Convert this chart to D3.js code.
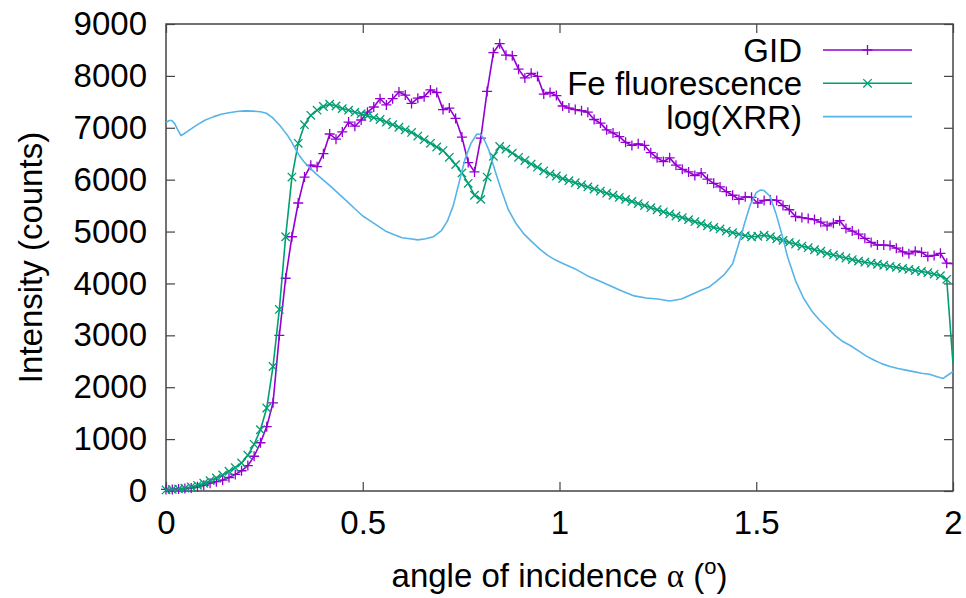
<!DOCTYPE html>
<html>
<head>
<meta charset="utf-8">
<script src="https://cdn.jsdelivr.net/npm/d3@7"></script>
<style>
  html, body { margin: 0; padding: 0; background: #fff; }
  svg { display: block; font-family: "Liberation Sans", Arial, sans-serif; }
</style>
</head>
<body>
<svg id="chart" width="966" height="598"></svg>
<script>
// ---------------- DATA ----------------
// measurement grid step for GID and Fe fluorescence (degrees)
const angleStep = 0.016;

const gidCounts = [
  30, 30, 40, 50, 60, 80, 110, 150, 180, 210,
  260, 320, 390, 490, 670, 930, 1240, 1700, 3000, 4100,
  4900, 5550, 6050, 6280, 6250, 6500, 6880, 6780, 6920, 7110,
  7030, 7150, 7300, 7400, 7560, 7440, 7560, 7690, 7630, 7470,
  7570, 7600, 7730, 7680, 7350, 7380, 7180, 6820, 6330, 6150,
  6800, 7700, 8450, 8620, 8400, 8390, 8130, 7960, 8050, 7990,
  7650, 7680, 7620, 7420, 7380, 7350, 7330, 7300, 7160, 7090,
  6960, 6900, 6830, 6720, 6660, 6690, 6660, 6520, 6420, 6350,
  6420, 6280, 6200, 6150, 6080, 6130, 6010, 5930, 5860, 5770,
  5700, 5620, 5670, 5660, 5550, 5600, 5610, 5600, 5500, 5420,
  5290, 5270, 5250, 5230, 5180, 5110, 5160, 5210, 5060, 5010,
  4950, 4870, 4790, 4740, 4740, 4730, 4680, 4610, 4570, 4620,
  4600, 4520, 4540, 4580, 4390, 4380
];

const feCounts = [
  20, 30, 40, 55, 80, 110, 150, 200, 250, 310,
  380, 450, 540, 690, 900, 1180, 1600, 2400, 3500, 4900,
  6050, 6700, 7060, 7240, 7340, 7410, 7455, 7420, 7370, 7340,
  7300, 7270, 7230, 7195, 7160, 7110, 7060, 7010, 6960, 6910,
  6840, 6770, 6700, 6630, 6560, 6430, 6290, 6130, 5930, 5700,
  5620, 6050, 6450, 6640, 6590, 6510, 6430, 6370, 6300, 6240,
  6170, 6110, 6070, 6020, 5980, 5940, 5900, 5860, 5820, 5780,
  5740, 5700, 5660, 5620, 5580, 5540, 5500, 5460, 5420, 5380,
  5340, 5300, 5270, 5230, 5190, 5150, 5110, 5080, 5050, 5010,
  4980, 4950, 4920, 4900, 4910, 4930, 4900, 4860, 4830, 4790,
  4760, 4720, 4690, 4650, 4620, 4580, 4550, 4520, 4490, 4460,
  4430, 4410, 4390, 4370, 4350, 4330, 4310, 4290, 4270, 4250,
  4230, 4210, 4180, 4150, 4080, 2450
];

const xrrAngles = [
  0.000, 0.008, 0.015, 0.022, 0.030, 0.038, 0.045, 0.060, 0.080, 0.100,
  0.120, 0.140, 0.160, 0.180, 0.200, 0.220, 0.240, 0.255, 0.270, 0.280,
  0.290, 0.300, 0.310, 0.320, 0.330, 0.340, 0.350, 0.360, 0.380, 0.400,
  0.420, 0.440, 0.460, 0.480, 0.500, 0.520, 0.540, 0.560, 0.580, 0.600,
  0.620, 0.640, 0.660, 0.680, 0.700, 0.715, 0.730, 0.745, 0.760, 0.775,
  0.790, 0.800, 0.810, 0.820, 0.835, 0.850, 0.870, 0.890, 0.910, 0.930,
  0.950, 0.970, 0.990, 1.010, 1.040, 1.070, 1.100, 1.130, 1.160, 1.190,
  1.220, 1.250, 1.280, 1.310, 1.340, 1.360, 1.380, 1.400, 1.420, 1.440,
  1.455, 1.470, 1.485, 1.500, 1.510, 1.520, 1.535, 1.550, 1.565, 1.580,
  1.600, 1.620, 1.640, 1.660, 1.680, 1.700, 1.720, 1.740, 1.760, 1.780,
  1.800, 1.820, 1.840, 1.860, 1.880, 1.900, 1.920, 1.940, 1.960, 1.975,
  1.990, 2.000
];
const xrrValues = [
  7100, 7140, 7140, 7080, 6960, 6850, 6880, 6960, 7060, 7150,
  7210, 7260, 7290, 7315, 7325, 7320, 7310, 7280, 7200, 7120,
  7040, 6940, 6840, 6720, 6580, 6450, 6350, 6270, 6120, 5990,
  5860, 5720, 5580, 5440, 5300, 5200, 5100, 5000, 4940, 4880,
  4860, 4840, 4860, 4900, 5020, 5200, 5500, 5950, 6400, 6700,
  6880, 6870, 6750, 6580, 6200, 5850, 5420, 5150, 4950, 4800,
  4660, 4540, 4450, 4380, 4280, 4150, 4050, 3950, 3850, 3760,
  3720, 3700, 3660, 3700, 3800, 3870, 3930, 4050, 4180, 4380,
  4750, 5150, 5520, 5750, 5800, 5790, 5680, 5350, 4950, 4500,
  4050, 3720, 3480, 3300, 3150, 3000, 2880, 2800, 2700, 2600,
  2520, 2450, 2400, 2360, 2330, 2300, 2270, 2250, 2200, 2170,
  2250, 2300
];

const xTicks = [0, 0.5, 1, 1.5, 2];
const xTickLabels = ["0", "0.5", "1", "1.5", "2"];
const yTicks = [0, 1000, 2000, 3000, 4000, 5000, 6000, 7000, 8000, 9000];

const seriesNames = ["GID", "Fe fluorescence", "log(XRR)"];
const seriesColors = ["#9400d3", "#009e73", "#56b4e9"];

// ---------------- CHART ----------------
const svg = d3.select("#chart");
const L = 166, R = 953, T = 24, B = 491;
const x = d3.scaleLinear().domain([0, 2]).range([L, R]);
const y = d3.scaleLinear().domain([0, 9000]).range([B, T]);

const gidData = gidCounts.map((v, i) => ({ a: +(i * angleStep).toFixed(4), v }));
const feData = feCounts.map((v, i) => ({ a: +(i * angleStep).toFixed(4), v }));
const xrrData = xrrAngles.map((a, i) => ({ a, v: xrrValues[i] }));

const FONT = 33;
const axisColor = "#444";

// axes with inward ticks
const gx = svg.append("g").attr("transform", `translate(0,${B})`)
  .call(d3.axisBottom(x).tickValues(xTicks).tickFormat((d, i) => xTickLabels[i]).tickSize(-9).tickPadding(20));
const gy = svg.append("g").attr("transform", `translate(${L},0)`)
  .call(d3.axisLeft(y).tickValues(yTicks).tickFormat(d3.format("d")).tickSize(-9).tickPadding(19));
const gt = svg.append("g").attr("transform", `translate(0,${T})`)
  .call(d3.axisTop(x).tickValues(xTicks).tickFormat("").tickSize(-9));
const gr = svg.append("g").attr("transform", `translate(${R},0)`)
  .call(d3.axisRight(y).tickValues(yTicks).tickFormat("").tickSize(-9));

[gx, gy, gt, gr].forEach(g => {
  g.select(".domain").remove();
  g.selectAll(".tick line").attr("stroke", axisColor).attr("stroke-width", 1.2);
  g.selectAll(".tick text").attr("font-size", FONT).attr("fill", "#000")
    .attr("font-family", "Liberation Sans, Arial, sans-serif");
});

svg.append("rect")
  .attr("x", L).attr("y", T).attr("width", R - L).attr("height", B - T)
  .attr("fill", "none").attr("stroke", axisColor).attr("stroke-width", 1.5);

// lines
const line = d3.line().x(d => x(d.a)).y(d => y(d.v));
const plus = "M-5,0H5M0,-5V5";
const cross = "M-4.2,-4.2L4.2,4.2M-4.2,4.2L4.2,-4.2";

function drawSeries(data, color, marker) {
  svg.append("path").datum(data)
    .attr("d", line).attr("fill", "none")
    .attr("stroke", color).attr("stroke-width", 1.6).attr("stroke-linejoin", "round");
  if (marker) {
    svg.append("g").selectAll("path")
      .data(data.filter(d => d.a < 2))
      .join("path")
      .attr("transform", d => `translate(${x(d.a)},${y(d.v)})`)
      .attr("d", marker).attr("fill", "none")
      .attr("stroke", color).attr("stroke-width", 1.3);
  }
}
drawSeries(gidData, seriesColors[0], plus);
drawSeries(feData, seriesColors[1], cross);
drawSeries(xrrData, seriesColors[2], null);

// legend
const legendMarkers = [plus, cross, null];
seriesNames.forEach((name, i) => {
  const ly = 50 + i * 33.3;
  svg.append("text").attr("x", 802).attr("y", ly + 12)
    .attr("text-anchor", "end").attr("font-size", FONT).attr("fill", "#000").text(name);
  svg.append("line").attr("x1", 823).attr("x2", 912).attr("y1", ly).attr("y2", ly)
    .attr("stroke", seriesColors[i]).attr("stroke-width", 1.6);
  if (legendMarkers[i]) {
    svg.append("path").attr("transform", `translate(867.5,${ly})`)
      .attr("d", legendMarkers[i]).attr("fill", "none")
      .attr("stroke", seriesColors[i]).attr("stroke-width", 1.3);
  }
});

// axis titles
const xt = svg.append("text").attr("x", (L + R) / 2).attr("y", 587)
  .attr("text-anchor", "middle").attr("font-size", FONT).attr("fill", "#000");
xt.append("tspan").text("angle of incidence ");
xt.append("tspan").attr("font-family", "Liberation Serif, DejaVu Serif, serif").text("α");
xt.append("tspan").text(" (");
xt.append("tspan").attr("font-size", 22).attr("dy", -13).text("o");
xt.append("tspan").attr("dy", 13).text(")");

svg.append("text")
  .attr("transform", `translate(42,${(T + B) / 2}) rotate(-90)`)
  .attr("text-anchor", "middle").attr("font-size", FONT).attr("fill", "#000")
  .text("Intensity (counts)");
</script>
</body>
</html>
